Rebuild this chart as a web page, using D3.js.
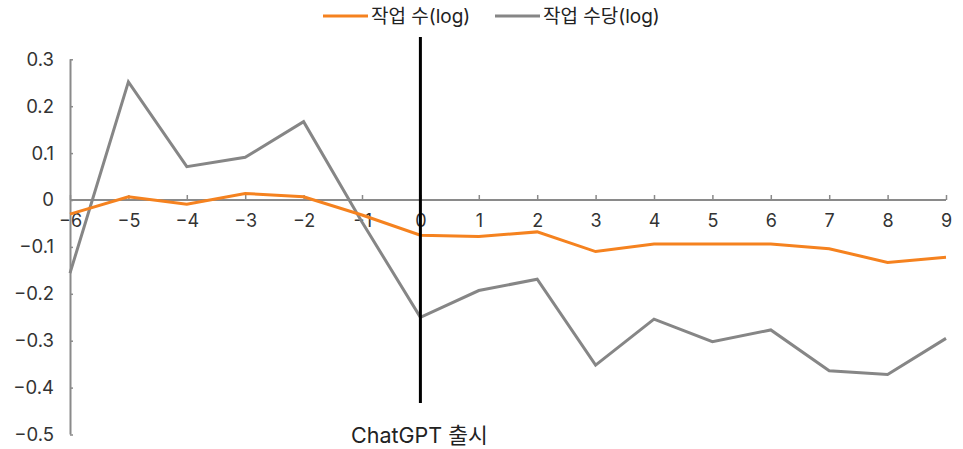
<!DOCTYPE html>
<html>
<head>
<meta charset="utf-8">
<script src="https://cdn.jsdelivr.net/npm/d3@7"></script>
<style>
  html, body { margin: 0; padding: 0; background: #fff; }
  svg { display: block; font-family: Inter, "Noto Sans CJK KR", sans-serif; }
</style>
</head>
<body>
<svg id="chart" width="963" height="449"></svg>
<script>
// Months relative to the ChatGPT release
const months = [-6, -5, -4, -3, -2, -1, 0, 1, 2, 3, 4, 5, 6, 7, 8, 9];
// Number of jobs (log)
const jobCount = [-0.030, 0.007, -0.009, 0.014, 0.007, -0.032, -0.075, -0.078, -0.068, -0.110, -0.094, -0.094, -0.094, -0.104, -0.133, -0.122];
// Earnings per job (log)
const jobPay = [-0.156, 0.252, 0.071, 0.091, 0.167, -0.047, -0.250, -0.193, -0.169, -0.352, -0.254, -0.302, -0.277, -0.364, -0.372, -0.295];
const yTicks = [0.3, 0.2, 0.1, 0, -0.1, -0.2, -0.3, -0.4, -0.5];
const seriesNames = ["작업 수(log)", "작업 수당(log)"];
const releaseMonth = 0;
const releaseLabel = "ChatGPT 출시";

const svg = d3.select("#chart");
const plotLeft = 70, plotRight = 946, plotTop = 59.3, plotBottom = 434.5;

const x = d3.scaleLinear().domain([-6, 9]).range([plotLeft, plotRight]);
const y = d3.scaleLinear().domain([-0.5, 0.3]).range([plotBottom, plotTop]);

const axisColor = "#8a8a8a";
const textColor = "#333";
const colors = ["#f5821f", "#868686"];

// y axis
const yAxis = svg.append("g").attr("transform", `translate(${plotLeft},0)`)
  .call(d3.axisRight(y).tickValues(yTicks).tickSize(3).tickFormat(d => d === 0 ? "0" : d3.format(".1f")(d)));
yAxis.attr("font-family", null);
yAxis.select(".domain").attr("stroke", axisColor).attr("stroke-width", 2)
  .attr("d", `M0.5,${plotTop}V${plotBottom}`);
yAxis.selectAll(".tick line").attr("stroke", axisColor).attr("stroke-width", 1.5);
yAxis.selectAll(".tick text")
  .attr("x", -16).attr("text-anchor", "end")
  .attr("fill", textColor).style("font-size", "18.5px");

// x axis along zero
const xAxis = svg.append("g").attr("transform", `translate(0,${y(0)})`)
  .call(d3.axisTop(x).tickValues(months).tickSize(5).tickFormat(d => d3.format("d")(d)));
xAxis.attr("font-family", null);
xAxis.select(".domain").attr("stroke", axisColor).attr("stroke-width", 2)
  .attr("d", `M${plotLeft},0H${plotRight}`);
xAxis.selectAll(".tick line").attr("stroke", axisColor).attr("stroke-width", 1.5);
xAxis.selectAll(".tick text")
  .attr("y", 27).attr("dy", 0)
  .attr("fill", textColor).style("font-size", "18px");

// series lines
const line = d3.line().x((d, i) => x(months[i])).y(d => y(d));
[jobPay, jobCount].forEach((vals, k) => {
  svg.append("path")
    .datum(vals)
    .attr("fill", "none")
    .attr("stroke", k === 0 ? colors[1] : colors[0])
    .attr("stroke-width", 3)
    .attr("stroke-linejoin", "miter")
    .attr("d", line);
});

// release marker
svg.append("line")
  .attr("x1", x(releaseMonth)).attr("x2", x(releaseMonth))
  .attr("y1", 37).attr("y2", 403)
  .attr("stroke", "#000").attr("stroke-width", 3);
svg.append("text")
  .attr("x", x(releaseMonth) - 1).attr("y", 443)
  .attr("text-anchor", "middle")
  .attr("fill", "#222").style("font-size", "21.5px")
  .text(releaseLabel);

// legend
const legendX = [323, 495];
seriesNames.forEach((name, i) => {
  const g = svg.append("g").attr("transform", `translate(${legendX[i]},16)`);
  g.append("line").attr("x1", 0).attr("x2", 45).attr("y1", 0).attr("y2", 0)
    .attr("stroke", colors[i]).attr("stroke-width", 3);
  g.append("text").attr("x", 48).attr("y", 7)
    .attr("fill", "#222").style("font-size", "19px").text(name);
});
</script>
</body>
</html>
